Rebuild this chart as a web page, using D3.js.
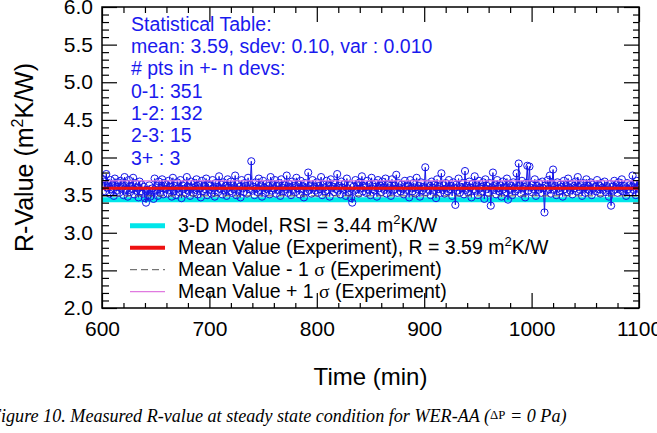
<!DOCTYPE html>
<html><head><meta charset="utf-8">
<script src="https://cdn.jsdelivr.net/npm/d3@7"></script>
<style>body{margin:0;background:#fff;overflow:hidden}</style></head>
<body>
<svg id="c" width="657" height="433"></svg>
<script>
// ---------- data ----------
const timeStart = 600;   // min, one sample per minute
const timeStep = 1;
const rValues = [
3.62,3.71,3.68,3.55,3.78,3.60,3.66,3.52,3.70,3.58,3.64,3.49,3.72,3.61,3.56,3.67,3.53,3.69,3.59,3.63,
3.50,3.74,3.57,3.65,3.48,3.70,3.54,3.62,3.58,3.73,3.51,3.66,3.56,3.60,3.47,3.68,3.55,3.64,3.52,3.61,
3.46,3.40,3.57,3.50,3.63,3.48,3.54,3.59,3.45,3.72,3.56,3.62,3.49,3.68,3.53,3.60,3.71,3.51,3.66,3.58,
3.64,3.52,3.69,3.57,3.61,3.48,3.73,3.55,3.62,3.50,3.67,3.59,3.54,3.70,3.46,3.63,3.58,3.65,3.52,3.74,
3.56,3.61,3.49,3.68,3.60,3.53,3.66,3.57,3.71,3.51,3.64,3.59,3.47,3.69,3.55,3.62,3.58,3.72,3.50,3.65,
3.57,3.63,3.52,3.70,3.59,3.48,3.66,3.61,3.54,3.75,3.58,3.64,3.51,3.67,3.56,3.62,3.49,3.71,3.60,3.55,
3.68,3.53,3.63,3.58,3.76,3.50,3.65,3.57,3.61,3.47,3.70,3.59,3.54,3.66,3.62,3.52,3.73,3.58,3.64,3.95,
3.56,3.61,3.50,3.67,3.59,3.54,3.72,3.57,3.63,3.48,3.69,3.60,3.53,3.65,3.58,3.62,3.51,3.74,3.56,3.64,
3.59,3.70,3.52,3.62,3.57,3.66,3.49,3.71,3.60,3.55,3.63,3.58,3.76,3.53,3.65,3.61,3.50,3.68,3.57,3.62,
3.54,3.73,3.59,3.64,3.51,3.69,3.58,3.62,3.47,3.66,3.60,3.55,3.80,3.57,3.63,3.52,3.70,3.59,3.61,3.56,
3.67,3.53,3.62,3.58,3.74,3.50,3.64,3.60,3.55,3.69,3.57,3.63,3.48,3.71,3.59,3.61,3.54,3.66,3.58,3.78,
3.56,3.62,3.51,3.68,3.60,3.57,3.65,3.49,3.72,3.59,3.54,3.63,3.46,3.40,3.61,3.56,3.70,3.58,3.64,3.52,
3.67,3.59,3.75,3.55,3.62,3.60,3.53,3.69,3.57,3.64,3.50,3.73,3.58,3.61,3.56,3.66,3.48,3.70,3.59,3.63,
3.54,3.68,3.60,3.57,3.72,3.52,3.65,3.59,3.62,3.49,3.71,3.56,3.63,3.58,3.77,3.53,3.66,3.60,3.55,3.64,
3.58,3.51,3.69,3.61,3.57,3.63,3.47,3.70,3.59,3.55,3.66,3.60,3.52,3.73,3.58,3.62,3.48,3.67,3.56,3.61,
3.59,3.87,3.54,3.65,3.57,3.62,3.50,3.68,3.60,3.56,3.64,3.46,3.71,3.58,3.61,3.53,3.79,3.57,3.63,3.52,
3.66,3.59,3.55,3.70,3.58,3.62,3.49,3.67,3.60,3.37,3.64,3.56,3.72,3.53,3.61,3.59,3.66,3.51,3.82,3.57,
3.62,3.54,3.68,3.60,3.47,3.65,3.58,3.75,3.56,3.63,3.50,3.69,3.59,3.61,3.55,3.67,3.45,3.71,3.58,3.62,
3.53,3.66,3.36,3.60,3.80,3.57,3.64,3.51,3.70,3.59,3.55,3.63,3.48,3.68,3.58,3.61,3.54,3.72,3.44,3.65,
3.57,3.62,3.50,3.67,3.60,3.55,3.79,3.58,3.92,3.63,3.52,3.69,3.59,3.61,3.47,3.66,3.89,3.56,3.88,3.60,
3.54,3.64,3.58,3.71,3.49,3.62,3.57,3.66,3.60,3.53,3.68,3.59,3.27,3.63,3.56,3.70,3.58,3.76,3.52,3.65,
3.84,3.57,3.62,3.50,3.67,3.59,3.55,3.64,3.61,3.48,3.69,3.58,3.63,3.54,3.72,3.60,3.56,3.65,3.51,3.62,
3.59,3.68,3.55,3.74,3.61,3.57,3.63,3.49,3.66,3.60,3.53,3.71,3.58,3.62,3.56,3.67,3.50,3.64,3.59,3.61,
3.55,3.70,3.58,3.63,3.52,3.66,3.60,3.57,3.68,3.54,3.62,3.59,3.48,3.65,3.36,3.61,3.56,3.69,3.58,3.64,
3.53,3.67,3.60,3.57,3.71,3.55,3.62,3.59,3.49,3.66,3.58,3.63,3.54,3.61,3.76,3.57,3.65,3.50,3.69,3.60,
3.62
];
const modelRSI = 3.44;
const meanR = 3.59;
const sdevR = 0.10;
const xDomain = [600, 1100];
const yDomain = [2.0, 6.0];
const xTicks = [600, 700, 800, 900, 1000, 1100];
const yTicks = [2.0, 2.5, 3.0, 3.5, 4.0, 4.5, 5.0, 5.5, 6.0];
const statLines = [
  "Statistical Table:",
  "mean: 3.59, sdev: 0.10, var : 0.010",
  "# pts in +- n devs:",
  "0-1: 351",
  "1-2: 132",
  "2-3: 15",
  "3+ : 3"
];
const xTitle = "Time (min)";
const caption = "Figure 10. Measured R-value at steady state condition for WER-AA (";

// ---------- layout ----------
const L = 102, R = 639, T = 7, B = 308;
const svg = d3.select("#c");
const FONT = "'Liberation Sans', Arial, Helvetica, sans-serif";
const x = d3.scaleLinear().domain(xDomain).range([L, R]);
const y = d3.scaleLinear().domain(yDomain).range([B, T]);

const pts = rValues.map((v, i) => ({t: timeStart + i * timeStep, v}));

svg.append("clipPath").attr("id", "clip").append("rect")
  .attr("x", L).attr("y", T).attr("width", R - L).attr("height", B - T);
const plot = svg.append("g").attr("clip-path", "url(#clip)");

// model line (cyan)
plot.append("line").attr("x1", x(xDomain[0])).attr("x2", x(xDomain[1]))
  .attr("y1", y(modelRSI)).attr("y2", y(modelRSI))
  .attr("stroke", "#00e6ea").attr("stroke-width", 5);

// data
plot.append("path").datum(pts)
  .attr("d", d3.line().x(d => x(d.t)).y(d => y(d.v)))
  .attr("fill", "none").attr("stroke", "#1515e8").attr("stroke-width", 1);
plot.selectAll("circle.p").data(pts).join("circle").attr("class", "p")
  .attr("cx", d => x(d.t)).attr("cy", d => y(d.v)).attr("r", 3.6)
  .attr("fill", "none").attr("stroke", "#1515e8").attr("stroke-width", 1);

// mean & sigma lines
const hl = (v, col, w, dash) => plot.append("line")
  .attr("x1", x(xDomain[0])).attr("x2", x(xDomain[1]))
  .attr("y1", y(v)).attr("y2", y(v))
  .attr("stroke", col).attr("stroke-width", w).attr("stroke-dasharray", dash || null);
hl(meanR, "#ee1111", 3);
hl(meanR - sdevR, "#555", 1, "7,4");
hl(meanR + sdevR, "#e07ae0", 1.3);

// ---------- axes ----------
const minorX = d3.range(xDomain[0], xDomain[1] + 1, 20).filter(v => v % 100 !== 0);
const minorY = d3.range(20, 61, 1).map(v => v / 10).filter(v => Math.round(v * 10) % 5 !== 0);

const axes = svg.append("g").attr("font-family", FONT);
function styleAxis(g) {
  g.select(".domain").remove();
  g.selectAll("line").attr("stroke", "#000").attr("stroke-width", 1.2);
  g.selectAll("text").attr("font-size", 21).attr("font-family", FONT).attr("fill", "#000");
}
axes.append("g").attr("transform", `translate(0,${B})`)
  .call(d3.axisBottom(x).tickValues(xTicks).tickSize(-15).tickPadding(13).tickFormat(d3.format("d")))
  .call(styleAxis);
axes.append("g").attr("transform", `translate(0,${B})`)
  .call(d3.axisBottom(x).tickValues(minorX).tickSize(-5).tickFormat(""))
  .call(styleAxis);
axes.append("g").attr("transform", `translate(0,${T})`)
  .call(d3.axisTop(x).tickValues(xTicks).tickSize(-15).tickFormat(""))
  .call(styleAxis);
axes.append("g").attr("transform", `translate(0,${T})`)
  .call(d3.axisTop(x).tickValues(minorX).tickSize(-6).tickFormat(""))
  .call(styleAxis);
axes.append("g").attr("transform", `translate(${L},0)`)
  .call(d3.axisLeft(y).tickValues(yTicks).tickSize(-15).tickPadding(9).tickFormat(d3.format(".1f")))
  .call(styleAxis);
axes.append("g").attr("transform", `translate(${L},0)`)
  .call(d3.axisLeft(y).tickValues(minorY).tickSize(-7).tickFormat(""))
  .call(styleAxis);
axes.append("g").attr("transform", `translate(${R},0)`)
  .call(d3.axisRight(y).tickValues(yTicks).tickSize(-15).tickFormat(""))
  .call(styleAxis);
axes.append("g").attr("transform", `translate(${R},0)`)
  .call(d3.axisRight(y).tickValues(minorY).tickSize(-6).tickFormat(""))
  .call(styleAxis);

svg.append("rect").attr("x", L).attr("y", T).attr("width", R - L).attr("height", B - T)
  .attr("fill", "none").attr("stroke", "#000").attr("stroke-width", 1.5);

// ---------- titles ----------
svg.append("text").attr("x", (L + R) / 2).attr("y", 385)
  .attr("text-anchor", "middle").attr("font-family", FONT).attr("font-size", 24)
  .text(xTitle);

const yt = svg.append("text").attr("transform", `translate(33,${(T + B) / 2}) rotate(-90)`)
  .attr("text-anchor", "middle").attr("font-family", FONT).attr("font-size", 25);
yt.append("tspan").text("R-Value (m");
yt.append("tspan").attr("font-size", 16).attr("dy", -10).text("2");
yt.append("tspan").attr("dy", 10).text("K/W)");

// ---------- stats ----------
svg.append("g").selectAll("text").data(statLines).join("text")
  .attr("x", 131).attr("y", (d, i) => 30.7 + i * 22.3)
  .attr("font-family", FONT).attr("font-size", 19.5).attr("fill", "#1a1aee")
  .text(d => d);

// ---------- legend ----------
const legend = [
  {col: "#00e6ea", w: 5, dash: null, parts: [["3-D Model, RSI = 3.44 m"], ["2", "sup"], ["K/W"]]},
  {col: "#ee1111", w: 4, dash: null, parts: [["Mean Value (Experiment), R = 3.59 m"], ["2", "sup"], ["K/W"]]},
  {col: "#555", w: 1, dash: "7,4", parts: [["Mean Value - 1 "], ["σ", "sym"], [" (Experiment)"]]},
  {col: "#e07ae0", w: 1.3, dash: null, parts: [["Mean Value + 1 "], ["σ", "sym"], [" (Experiment)"]]}
];
const lg = svg.append("g");
legend.forEach((e, i) => {
  const by = 231.7 + i * 22;
  lg.append("line").attr("x1", 130).attr("x2", 165).attr("y1", by - 6).attr("y2", by - 6)
    .attr("stroke", e.col).attr("stroke-width", e.w).attr("stroke-dasharray", e.dash);
  const t = lg.append("text").attr("x", 178).attr("y", by)
    .attr("font-family", FONT).attr("font-size", 19.5).attr("fill", "#000");
  let prevSup = false;
  e.parts.forEach(p => {
    const s = t.append("tspan").text(p[0]);
    if (p[1] === "sup") s.attr("font-size", 13).attr("dy", -8);
    else if (p[1] === "sym") s.attr("font-family", "'Liberation Serif', 'DejaVu Serif', serif");
    if (p[1] !== "sup" && prevSup) s.attr("dy", 8);
    prevSup = p[1] === "sup";
  });
});

// ---------- caption ----------
const capFont = "'Liberation Serif', 'Times New Roman', serif";
const cap = svg.append("text").attr("x", 0).attr("y", 422)
  .attr("font-family", capFont).attr("font-style", "italic").attr("font-size", 17);
const c1 = cap.append("tspan").text(caption);
const c2 = cap.append("tspan").attr("font-size", 12).attr("font-style", "normal").attr("dy", -3).text("ΔP");
const c3 = cap.append("tspan").attr("dy", 3).text("  = 0 Pa)");
// fit: "igure ..." begins at x=0, final ")" ends at x=566
const probe = svg.append("text").attr("font-family", capFont).attr("font-style", "italic")
  .attr("font-size", 17).text("F");
const wF = probe.node().getComputedTextLength();
probe.remove();
const total = cap.node().getComputedTextLength();
const k = (566) / (total - wF);
cap.attr("font-size", 17 * k);
c2.attr("font-size", 12 * k);
cap.attr("x", -wF * k + 1);
</script>
</body></html>
